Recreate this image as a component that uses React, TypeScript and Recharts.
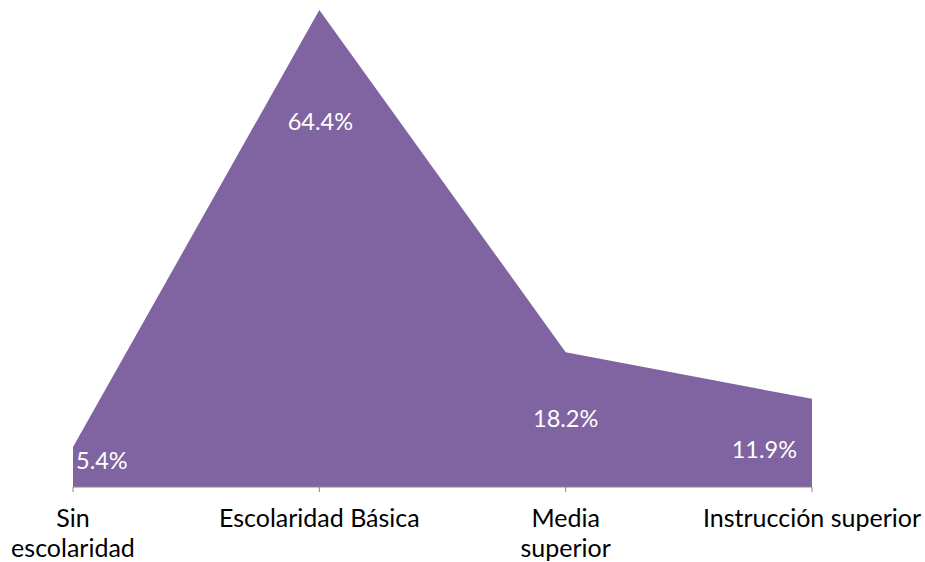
import { Area, AreaChart, LabelList, XAxis, YAxis } from "recharts";

const CATEGORIES = ["Sin\nescolaridad", "Escolaridad Básica", "Media\nsuperior", "Instrucción superior"];
const SHARES = [5.4, 64.4, 18.2, 11.9];

const data = CATEGORIES.map((name, i) => ({ name, share: SHARES[i] }));

// label placement, imitating the spreadsheet's own layout (baseline offset from the point)
const LABEL_DY = [22, 120, 75, 59];
const LABEL_ANCHOR = ["start", "middle", "middle", "end"] as const;
const LABEL_DX = [3, 1, 0, -15];

const PURPLE = "#8064A2";
const FONT = "Lato, 'Open Sans', sans-serif";

function CategoryTick({ x, y, payload }: any) {
  const lines = String(payload.value).split("\n");
  return (
    <text x={x} y={y + 33} textAnchor="middle" fill="#000" fontSize={25} fontFamily={FONT}>
      {lines.map((l, i) => (
        <tspan key={i} x={x} dy={i === 0 ? 0 : 30}>
          {l}
        </tspan>
      ))}
    </text>
  );
}

function ShareLabel({ x, y, value, index }: any) {
  return (
    <text
      x={x + LABEL_DX[index]}
      y={y + LABEL_DY[index]}
      textAnchor={LABEL_ANCHOR[index]}
      fill="#fff"
      fontSize={23.5}
      fontFamily={FONT}
    >
      {value.toFixed(1)}%
    </text>
  );
}

export default function App() {
  return (
    <div style={{ position: "absolute", left: 0, top: 0, background: "#fff" }}>
      <AreaChart width={925} height={562} data={data} margin={{ top: 10, right: 113, left: 73, bottom: 0 }}>
        <XAxis
          dataKey="name"
          tick={<CategoryTick />}
          tickLine={{ stroke: "#888" }}
          axisLine={{ stroke: "#888" }}
          tickSize={5}
          height={75}
          interval={0}
        />
        <YAxis hide domain={[0, 64.4]} />
        <Area
          type="linear"
          dataKey="share"
          stroke="none"
          fill={PURPLE}
          fillOpacity={1}
          isAnimationActive={false}
        >
          <LabelList dataKey="share" content={<ShareLabel />} />
        </Area>
      </AreaChart>
    </div>
  );
}
